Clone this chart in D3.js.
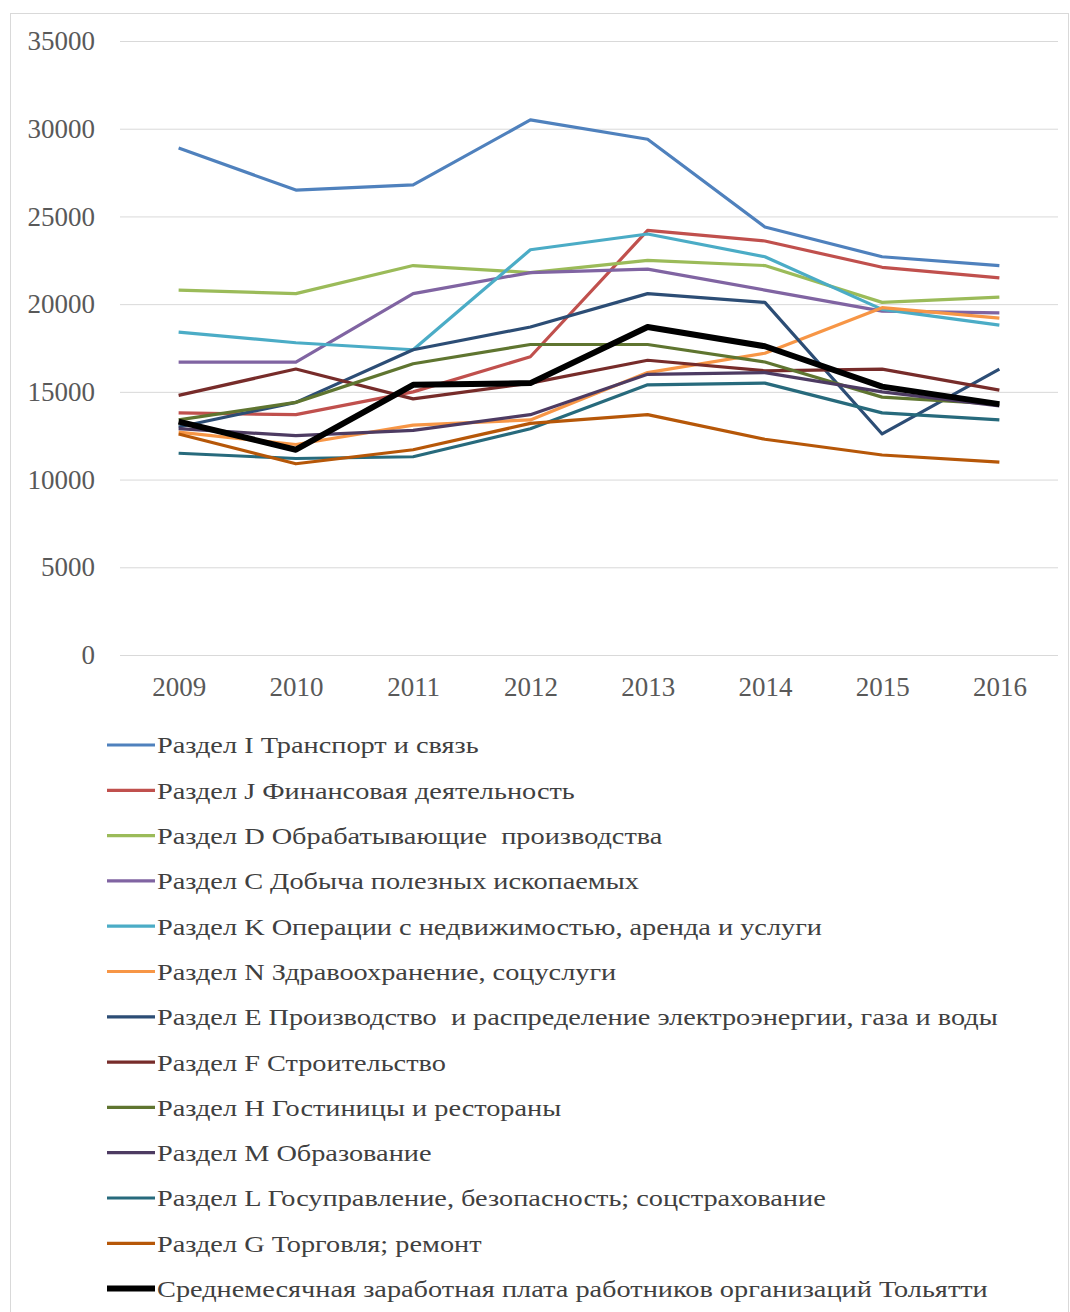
<!DOCTYPE html>
<html lang="ru">
<head>
  <meta charset="utf-8" />
  <style>
    body { margin: 0; background: #fff; }
    svg, svg text { font-family: "Liberation Serif", "Times New Roman", "DejaVu Serif", serif !important; }
  </style>
</head>
<body>
  <div id="chart"></div>
  <script src="https://cdnjs.cloudflare.com/ajax/libs/d3/7.8.5/d3.min.js"></script>
  <script>
    // data
    const years = ["2009", "2010", "2011", "2012", "2013", "2014", "2015", "2016"];
    const yTicks = [0, 5000, 10000, 15000, 20000, 25000, 30000, 35000];

    const transport   = [28900, 26500, 26800, 30500, 29400, 24400, 22700, 22200];
    const finance     = [13800, 13700, 15000, 17000, 24200, 23600, 22100, 21500];
    const manufacture = [20800, 20600, 22200, 21800, 22500, 22200, 20100, 20400];
    const mining      = [16700, 16700, 20600, 21800, 22000, 20800, 19600, 19500];
    const realty      = [18400, 17800, 17400, 23100, 24000, 22700, 19700, 18800];
    const health      = [12700, 12000, 13100, 13400, 16100, 17200, 19800, 19200];
    const energy      = [13000, 14400, 17400, 18700, 20600, 20100, 12600, 16300];
    const building    = [14800, 16300, 14600, 15500, 16800, 16200, 16300, 15100];
    const hotels      = [13400, 14400, 16600, 17700, 17700, 16700, 14700, 14300];
    const education   = [12900, 12500, 12800, 13700, 16000, 16100, 15000, 14200];
    const government  = [11500, 11200, 11300, 12900, 15400, 15500, 13800, 13400];
    const trade       = [12600, 10900, 11700, 13200, 13700, 12300, 11400, 11000];
    const average     = [13300, 11700, 15400, 15500, 18700, 17600, 15300, 14300];

    const names = [
      "Раздел I Транспорт и связь",
      "Раздел J Финансовая деятельность",
      "Раздел D Обрабатывающие  производства",
      "Раздел C Добыча полезных ископаемых",
      "Раздел K Операции с недвижимостью, аренда и услуги",
      "Раздел N Здравоохранение, соцуслуги",
      "Раздел E Производство  и распределение электроэнергии, газа и воды",
      "Раздел F Строительство",
      "Раздел H Гостиницы и рестораны",
      "Раздел M Образование",
      "Раздел L Госуправление, безопасность; соцстрахование",
      "Раздел G Торговля; ремонт",
      "Среднемесячная заработная плата работников организаций Тольятти"
    ];
    const values = [transport, finance, manufacture, mining, realty, health, energy,
      building, hotels, education, government, trade, average];

    const colors = ["#4f81bd", "#c0504d", "#9bbb59", "#8064a2", "#4bacc6", "#f79646",
      "#2c4d75", "#772c2a", "#5f7530", "#4d3b62", "#276a7c", "#b65708", "#000000"];

    const series = names.map((name, i) => ({ name, values: values[i], color: colors[i], wide: i === names.length - 1 }));

    const width = 1070;
    const height = 1312;
    const margin = { top: 41, left: 120, right: 12 };
    const plotBottom = 655;
    const serif = '"Liberation Serif", "Times New Roman", serif';

    const svg = d3.select("#chart")
      .append("svg")
      .attr("width", width)
      .attr("height", height)
      .attr("font-family", serif);

    // frame round the chart
    svg.append("rect")
      .attr("x", 10.5)
      .attr("y", 13.5)
      .attr("width", width - 12)
      .attr("height", height)
      .attr("fill", "none")
      .attr("stroke", "#d9d9d9");

    const x = d3.scalePoint()
      .domain(years)
      .range([margin.left, width - margin.right])
      .padding(0.5);

    const y = d3.scaleLinear()
      .domain([0, 35000])
      .range([plotBottom, margin.top]);

    // gridlines + y labels
    const yAxis = svg.append("g")
      .attr("transform", `translate(${margin.left},0)`)
      .call(d3.axisLeft(y).tickValues(yTicks).tickSize(-(width - margin.right - margin.left)).tickPadding(25).tickFormat(d3.format("d")));
    yAxis.attr("font-family", serif);
    yAxis.select(".domain").remove();
    yAxis.selectAll(".tick line").attr("stroke", "#d9d9d9");
    yAxis.selectAll(".tick text")
      .attr("fill", "#595959")
      .attr("font-size", 27);

    // x labels
    const xAxis = svg.append("g")
      .attr("transform", `translate(0,${plotBottom})`)
      .call(d3.axisBottom(x).tickSize(0).tickPadding(22));
    xAxis.attr("font-family", serif);
    xAxis.select(".domain").remove();
    xAxis.selectAll(".tick text")
      .attr("fill", "#595959")
      .attr("font-size", 27);

    const line = d3.line()
      .x((d, i) => x(years[i]))
      .y(d => y(d));

    svg.append("g")
      .selectAll("path.series")
      .data(series)
      .join("path")
      .attr("class", "series")
      .attr("fill", "none")
      .attr("stroke", d => d.color)
      .attr("stroke-width", d => d.wide ? 6 : 3.2)
      .attr("stroke-linejoin", "round")
      .attr("d", d => line(d.values));

    // legend (the source text is stretched sideways)
    const legend = svg.append("g")
      .selectAll("g.item")
      .data(series)
      .join("g")
      .attr("class", "item")
      .attr("transform", (d, i) => `translate(107,${745 + i * 45.3})`);

    legend.append("line")
      .attr("x1", 0)
      .attr("x2", 48)
      .attr("stroke", d => d.color)
      .attr("stroke-width", d => d.wide ? 6 : 3.2);

    legend.append("text")
      .attr("transform", "translate(50,0) scale(1.18,1)")
      .attr("dy", "0.35em")
      .attr("fill", "#404040")
      .attr("font-size", 24)
      .attr("xml:space", "preserve")
      .style("white-space", "pre")
      .text(d => d.name);
  </script>
</body>
</html>
